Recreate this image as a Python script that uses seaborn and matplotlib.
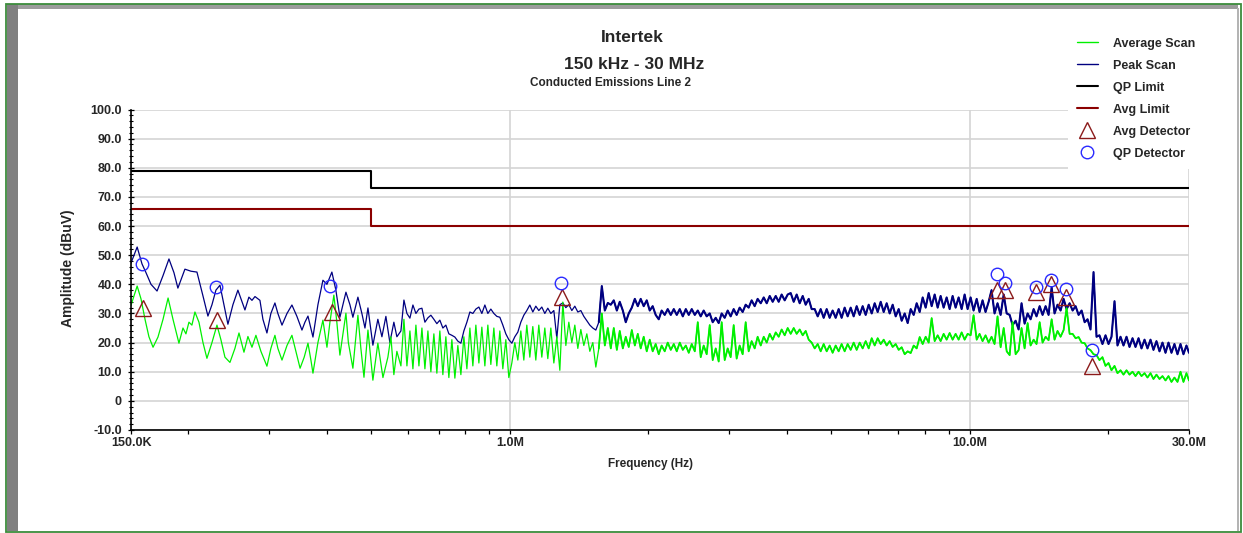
import matplotlib
matplotlib.use("Agg")
import matplotlib.pyplot as plt
import seaborn as sns
from matplotlib.lines import Line2D
from matplotlib.patches import Rectangle
from matplotlib.ticker import FixedLocator, FixedFormatter, MultipleLocator, NullFormatter

# ---------------- data (frequency in MHz, amplitude in dBuV) ----------------
peak_freq_low = [0.150, 0.1547, 0.1585, 0.1617, 0.1658, 0.1709, 0.1761, 0.1814, 0.1860, 0.1897,
                 0.1965, 0.2025, 0.2087, 0.2151, 0.2205, 0.2250, 0.2295, 0.2342, 0.2389, 0.2437,
                 0.2499, 0.2562, 0.2654, 0.2707, 0.2749, 0.2791, 0.2861, 0.2904, 0.2963, 0.3022,
                 0.3084, 0.3130, 0.3195, 0.3276, 0.3358, 0.3443, 0.3531, 0.3584, 0.3639, 0.3731,
                 0.3825, 0.3922, 0.4002, 0.4102, 0.4185, 0.4270, 0.4401, 0.4490, 0.4557, 0.4673,
                 0.4767, 0.4841, 0.4914, 0.5037, 0.5164, 0.5270, 0.5376, 0.5484, 0.5595, 0.5680]
peak_db_low = [47.3, 52.8, 47, 44, 40, 37.7, 43, 48.7, 44, 38.7,
               45.2, 44.5, 44.2, 36, 29.1, 33, 38, 39.7, 33, 26.3,
               33, 38.0, 31.2, 35.6, 34.5, 35.8, 34.5, 28, 23.3, 30,
               33.6, 30, 26.0, 30, 32.9, 29, 24.3, 27, 29.1, 21.9,
               33, 41.4, 40, 44.2, 38, 28.7, 37.3, 33, 28.7, 35.6,
               30, 25.0, 31.9, 19.1, 28, 22, 29, 20, 27, 22]

avg_freq_low = [0.150, 0.1547, 0.1577, 0.1609, 0.1641, 0.1675, 0.1717, 0.1761, 0.1806, 0.1851,
                0.1907, 0.1946, 0.1975, 0.2005, 0.2035, 0.2066, 0.2108, 0.2151, 0.2194, 0.2250,
                0.2307, 0.2353, 0.2401, 0.2462, 0.2524, 0.2576, 0.2641, 0.2694, 0.2749, 0.2804,
                0.2875, 0.2963, 0.3022, 0.3084, 0.3130, 0.3195, 0.3276, 0.3358, 0.3426, 0.3498,
                0.3571, 0.3639, 0.3693, 0.3731, 0.3825, 0.3922, 0.4002, 0.4062, 0.4143, 0.4205,
                0.4270, 0.4401, 0.4455, 0.4557, 0.4673, 0.4743, 0.4817, 0.4914, 0.4987, 0.5037,
                0.5164, 0.5297, 0.5430, 0.5512, 0.5595, 0.5680]
avg_db_low = [32.8, 39.4, 35, 28, 22, 18.4, 21.9, 28, 35.3, 28,
              19.8, 25, 23, 27, 26, 30.5, 27, 20, 14.6, 20,
              26.0, 21, 15, 13.2, 18, 23.3, 16.7, 22.1, 18.4, 22.5,
              17, 11.9, 18, 22.5, 18, 14.0, 19, 22.5, 17, 11.2,
              15, 19.8, 14, 9.5, 20, 27.7, 18.4, 27, 36.3, 27,
              15.7, 30.1, 20, 11.2, 29.4, 18, 8.1, 24.3, 14, 7.1,
              19.8, 8, 15, 22, 9, 17]

# shared sweep points above ~0.58 MHz
sweep_freq = [0.5796, 0.5884, 0.5973, 0.6063, 0.6155, 0.6248, 0.6343, 0.6439, 0.6536, 0.6635,
              0.6734, 0.6836, 0.6939, 0.7044, 0.7151, 0.7259, 0.7369, 0.7481, 0.7594, 0.7708,
              0.7826, 0.7944, 0.8065, 0.8187, 0.8310, 0.8436, 0.8564, 0.8693, 0.8825, 0.8958,
              0.9093, 0.9231, 0.9370, 0.9512, 0.9656, 0.9802, 0.9950, 1.0101, 1.0253, 1.0409,
              1.0566, 1.0726, 1.0888, 1.1053, 1.1220, 1.1390, 1.1562, 1.1737, 1.1915, 1.2095,
              1.2280, 1.2466, 1.2654, 1.2846, 1.3040, 1.3238, 1.3438, 1.3641, 1.3847, 1.4057,
              1.4270, 1.4486, 1.4705, 1.4928, 1.5153, 1.5383, 1.5615, 1.5851, 1.6091, 1.6335,
              1.658, 1.683, 1.709, 1.734, 1.761, 1.787, 1.814, 1.842, 1.870, 1.898,
              1.926, 1.955, 1.985, 2.015, 2.045, 2.076, 2.108, 2.139, 2.172, 2.205,
              2.239, 2.273, 2.307, 2.342, 2.378, 2.414, 2.450, 2.487, 2.525, 2.563,
              2.601, 2.640, 2.680, 2.721, 2.762, 2.804, 2.846, 2.889, 2.933, 2.977,
              3.022, 3.068, 3.114, 3.161, 3.209, 3.258, 3.307, 3.357, 3.408, 3.459,
              3.513, 3.566, 3.620, 3.675, 3.730, 3.787, 3.844, 3.901, 3.961, 4.021,
              4.082, 4.144, 4.206, 4.270, 4.335, 4.400, 4.467, 4.534, 4.603, 4.673,
              4.743, 4.815, 4.888, 4.961, 5.036, 5.113, 5.190, 5.268, 5.348, 5.429,
              5.512, 5.595, 5.680, 5.766, 5.853, 5.942, 6.032, 6.124, 6.216, 6.310,
              6.406, 6.503, 6.601, 6.701, 6.802, 6.906, 7.010, 7.116, 7.224, 7.333,
              7.444, 7.557, 7.671, 7.787, 7.905, 8.024, 8.146, 8.269, 8.394, 8.521,
              8.649, 8.780, 8.913, 9.048, 9.184, 9.323, 9.464, 9.608, 9.753, 9.900,
              10.05, 10.20, 10.36, 10.51, 10.67, 10.83, 11.00, 11.16, 11.33, 11.50,
              11.68, 11.86, 12.04, 12.22, 12.40, 12.59, 12.78, 12.97, 13.17, 13.37,
              13.57, 13.78, 13.98, 14.20, 14.41, 14.63, 14.85, 15.08, 15.30, 15.53,
              15.77, 16.01, 16.25, 16.50, 16.75, 17.00, 17.26, 17.52, 17.79, 18.05,
              18.32, 18.60, 18.88, 19.16, 19.45, 19.75, 20.05, 20.35, 20.66, 20.97,
              21.29, 21.61, 21.94, 22.27, 22.61, 22.95, 23.30, 23.65, 24.01, 24.37,
              24.74, 25.11, 25.49, 25.88, 26.27, 26.67, 27.07, 27.48, 27.89, 28.32,
              28.75, 29.18, 29.62, 30.0]

peak_db_sweep = [24, 34.6, 30, 28.4, 32.9, 30, 31.5, 31.8, 27, 28.5,
                 29.4, 28, 26.5, 27.7, 25, 26, 23, 22.5, 21.9, 20.5,
                 19.8, 24, 27, 30.5, 30, 31.5, 32.2, 30, 32.9, 30,
                 31.5, 30, 29, 28.7, 26, 23, 21, 19.8, 22, 23.6,
                 27, 29.4, 31, 32.9, 30.5, 32.5, 31, 32.2, 30, 31.8,
                 30, 31, 21.5, 33, 33.6, 32, 33, 31, 32.5, 30.5,
                 31, 29, 27.5, 26, 25, 24.3, 27, 39.4, 31, 33.6,
                 33, 34.5, 31, 34, 31, 27, 30, 32, 35, 32.5,
                 35, 32.5, 34.5, 31, 32.5, 29.5, 28, 31, 29.5, 31.5,
                 29.5, 31.5, 29.5, 31.5, 29, 31.5, 29.5, 31.5, 29.5, 31,
                 29, 31, 29, 30, 27, 28.5, 26.7, 30, 28.5, 31,
                 29, 31.5, 29.5, 32, 30.5, 33, 32, 34.5, 32.5, 35,
                 33.5, 35.5, 33.5, 36, 34, 36, 34, 36.5, 34.5, 36.5,
                 37, 34, 36.5, 33.5, 36, 33, 35, 31.5, 31.5, 29,
                 31.5, 28.5, 31.5, 28.5, 31, 28.5, 31.5, 28.5, 32, 29,
                 32, 29, 32.5, 29.5, 32.5, 29.5, 33, 30, 33.5, 30.5,
                 34, 30.5, 33.5, 30, 33, 29, 31.5, 27.5, 30, 26.7,
                 31.5, 29.5, 33.5, 30.5, 35.5, 32, 37, 32.5, 36.5, 32,
                 36, 32, 35.5, 31.5, 36, 32, 35.5, 31.5, 36.5, 31.5,
                 35.5, 31, 35, 30.5, 34.5, 30.5, 34, 38, 30, 33.5,
                 29.5, 36.5, 30, 29.5, 26, 27.5, 24.5, 33.5, 26.5, 30,
                 28, 31.5, 29, 32.5, 29.5, 32.5, 29.5, 39, 30, 33,
                 31, 35, 31.5, 33.5, 31, 32.5, 29.5, 31, 27, 28,
                 24.5, 44.2, 22, 22.5, 19.5, 22.5, 19.5, 22, 34.2, 19,
                 22, 19, 22, 18.5, 21.5, 18.5, 21.5, 18, 21, 18,
                 21, 17.5, 20.5, 17, 20, 16.5, 20, 16.5, 19.5, 16,
                 19.5, 16, 19, 16.5]

avg_db_sweep = [12, 28, 12, 24, 11, 26, 12, 25, 11, 24,
                10, 23, 9.5, 24, 9, 22, 8, 21, 7.8, 19,
                9, 22, 11, 25, 12, 26, 13, 25.3, 12, 26,
                12.5, 25, 12, 24, 11, 21, 8, 13, 20, 14,
                24, 14, 26, 15, 25.5, 14, 26, 15, 25, 14.5,
                25, 13, 22, 10.5, 33.9, 19, 27, 20, 26, 18,
                24.5, 19, 23, 17, 20, 11.6, 18, 30, 19, 25,
                18, 25, 17.5, 24, 18, 22, 18.5, 24.3, 19, 23,
                18, 22, 17, 21, 17, 19.5, 16, 19, 17, 20,
                17.5, 19.5, 17, 20, 17.5, 19, 16.5, 19.5, 17, 27,
                15, 19, 16, 26, 14, 18, 13.5, 27, 14, 18,
                15, 26, 14.5, 19, 16, 27, 17, 20.5, 18, 22,
                19, 22, 20, 23, 21, 23.5, 22, 24.5, 22.5, 25,
                23, 25, 23, 24.5, 22.5, 24, 21, 20, 18, 19.5,
                17, 19.5, 17, 19, 16.5, 19, 17, 19.5, 17, 19.5,
                17.5, 20, 17.5, 20, 18, 20.5, 18, 21.5, 19, 21.5,
                19.5, 21, 19, 20.5, 18.5, 19.5, 17.5, 18.4, 16, 17,
                16.4, 19, 18, 21.9, 19.5, 22, 20, 28.4, 20.5, 22.5,
                20.5, 23, 21, 23.3, 21, 23, 21, 23.5, 21, 23,
                22.5, 29.4, 21, 23, 20.5, 22.5, 20, 22, 19.5, 29,
                18.4, 25, 17, 15.7, 27, 16, 17.4, 25, 18, 26.7,
                19, 21, 19.5, 27, 20, 22, 20.8, 28, 21, 24,
                22, 24.3, 31.8, 23, 23, 21.5, 21.9, 20, 19.8, 18,
                17.4, 16, 15.7, 14, 15, 12, 13, 10.5, 12, 9.5,
                10.5, 9, 10.5, 9, 10, 8.5, 10, 8.5, 9.5, 8,
                9.5, 7.5, 9, 7.5, 8.5, 7, 8.5, 6.5, 8, 6.5,
                10, 6.5, 9.5, 7]

limit_freq = [0.15, 0.5, 30.0]
qp_limit = [79.0, 73.0, 73.0]
avg_limit = [66.0, 60.0, 60.0]

qp_det_freq = [0.1585, 0.2295, 0.4062, 1.291, 11.49, 11.96, 13.92, 15.05, 16.17, 18.48]
qp_det_db = [47.0, 39.1, 39.4, 40.4, 43.4, 40.3, 39.2, 41.4, 38.3, 17.6]
avg_det_freq = [0.1593, 0.2307, 0.4102, 1.297, 11.49, 11.96, 13.92, 15.05, 16.17, 18.48]
avg_det_db = [31.8, 27.7, 30.5, 35.6, 38.0, 38.0, 37.3, 40.0, 35.7, 12.0]

xtick_values = [0.15, 1.0, 10.0, 30.0]
xtick_labels = ["150.0K", "1.0M", "10.0M", "30.0M"]
xminor_values = [0.2, 0.3, 0.4, 0.5, 0.6, 0.7, 0.8, 0.9, 2, 3, 4, 5, 6, 7, 8, 9, 20]
ytick_values = [-10, 0, 10, 20, 30, 40, 50, 60, 70, 80, 90, 100]
ytick_labels = ["-10.0", "0", "10.0", "20.0", "30.0", "40.0", "50.0", "60.0", "70.0", "80.0", "90.0", "100.0"]

legend_labels = ["Average Scan", "Peak Scan", "QP Limit", "Avg Limit", "Avg Detector", "QP Detector"]

peak_freq = peak_freq_low + sweep_freq
peak_db = peak_db_low + peak_db_sweep
avg_freq = avg_freq_low + sweep_freq
avg_db = avg_db_low + avg_db_sweep
assert len(peak_freq) == len(peak_db), (len(peak_freq), len(peak_db))
assert len(avg_freq) == len(avg_db), (len(avg_freq), len(avg_db))

# dense (noisy) part of the sweep, drawn a little heavier like the analyser trace
dense_from = 1.55
dense_f = [f for f in sweep_freq if f >= dense_from]
dense_peak = [v for f, v in zip(sweep_freq, peak_db_sweep) if f >= dense_from]
dense_avg = [v for f, v in zip(sweep_freq, avg_db_sweep) if f >= dense_from]

# ---------------- styling ----------------
GREEN = "#00f000"
NAVY = "#000080"
DARKRED = "#8b0000"
TRI = "#8b1a1a"
CIRC = "#2a2aff"

sns.set_style("white")
plt.rcParams["font.family"] = ["Liberation Sans", "DejaVu Sans"]
plt.rcParams["font.weight"] = "bold"
plt.rcParams["axes.labelweight"] = "bold"

W, H = 1243, 533
fig = plt.figure(figsize=(W / 100, H / 100), dpi=100)
fig.patch.set_facecolor("white")
ax = fig.add_axes([131 / W, (H - 430) / H, 1058 / W, 320.5 / H])

sns.lineplot(x=peak_freq, y=peak_db, color=NAVY, lw=0.9, estimator=None, sort=False, ax=ax)
sns.lineplot(x=dense_f, y=dense_peak, color=NAVY, lw=1.5, estimator=None, sort=False, ax=ax)
sns.lineplot(x=avg_freq, y=avg_db, color=GREEN, lw=0.9, estimator=None, sort=False, ax=ax)
sns.lineplot(x=dense_f, y=dense_avg, color=GREEN, lw=1.3, estimator=None, sort=False, ax=ax)
sns.lineplot(x=limit_freq, y=qp_limit, color="black", lw=1.5, drawstyle="steps-post",
             estimator=None, sort=False, ax=ax)
sns.lineplot(x=limit_freq, y=avg_limit, color=DARKRED, lw=1.5, drawstyle="steps-post",
             estimator=None, sort=False, ax=ax)
sns.lineplot(x=avg_det_freq, y=avg_det_db, marker="^", linestyle="none", markersize=11,
             markerfacecolor="none", markeredgecolor=TRI, markeredgewidth=1.0,
             estimator=None, sort=False, ax=ax)
sns.lineplot(x=qp_det_freq, y=qp_det_db, marker="o", linestyle="none", markersize=9,
             markerfacecolor="none", markeredgecolor=CIRC, markeredgewidth=1.0,
             estimator=None, sort=False, ax=ax)

ax.set_xscale("log")
ax.set_xlim(0.15, 30.0)
ax.set_ylim(-10, 100)
ax.xaxis.set_major_locator(FixedLocator(xtick_values))
ax.xaxis.set_major_formatter(FixedFormatter(xtick_labels))
ax.xaxis.set_minor_locator(FixedLocator(xminor_values))
ax.xaxis.set_minor_formatter(NullFormatter())
ax.yaxis.set_major_locator(FixedLocator(ytick_values))
ax.yaxis.set_major_formatter(FixedFormatter(ytick_labels))
ax.yaxis.set_minor_locator(MultipleLocator(2))

ax.tick_params(axis="y", which="major", direction="inout", length=5, width=0.9, color="black",
               labelsize=9, pad=4, left=True)
ax.tick_params(axis="y", which="minor", direction="inout", length=3.5, width=0.8, color="black", left=True)
ax.tick_params(axis="x", which="both", direction="out", length=3, width=0.9, color="black",
               labelsize=9, pad=2, bottom=True)

ax.grid(True, which="major", axis="both", color="#d4d4d4", lw=1.2)
ax.set_axisbelow(True)
for s in ["top", "right"]:
    ax.spines[s].set_visible(False)
for s in ["left", "bottom"]:
    ax.spines[s].set_color("black")
    ax.spines[s].set_linewidth(1.2)

ax.set_xlabel("Frequency (Hz)", fontsize=8.5, fontweight="bold")
ax.set_ylabel("Amplitude (dBuV)", fontsize=10, fontweight="bold")
ax.xaxis.set_label_coords((651 - 131) / 1058, (430 - 458) / 320.5)
ax.yaxis.set_label_coords((75 - 131) / 1058, (430 - 268) / 320.5)

# titles
fig.text(632 / W, 1 - 42.5 / H, "Intertek", ha="center", va="baseline", fontsize=12.5, fontweight="bold")
fig.text(634 / W, 1 - 69 / H, "150 kHz - 30 MHz", ha="center", va="baseline", fontsize=12.5, fontweight="bold")
fig.text(611 / W, 1 - 85.5 / H, "Conducted Emissions Line 2", ha="center", va="baseline", fontsize=8.5,
         fontweight="bold")

# legend
handles = [
    Line2D([], [], color=GREEN, lw=1.0),
    Line2D([], [], color=NAVY, lw=1.0),
    Line2D([], [], color="black", lw=1.5),
    Line2D([], [], color=DARKRED, lw=1.5),
    Line2D([], [], marker="^", linestyle="none", markersize=11, markerfacecolor="none",
           markeredgecolor=TRI, markeredgewidth=1.0),
    Line2D([], [], marker="o", linestyle="none", markersize=9, markerfacecolor="none",
           markeredgecolor=CIRC, markeredgewidth=1.0),
]
leg = ax.legend(handles, legend_labels, loc="upper left", bbox_to_anchor=(1068 / W, 1 - 29 / H),
                bbox_transform=fig.transFigure, frameon=True, facecolor="white", edgecolor="none",
                framealpha=1, fancybox=False, borderpad=0.7, borderaxespad=0, handlelength=1.7,
                handletextpad=1.2, labelspacing=0.8, prop={"weight": "bold", "size": 9})
leg.set_zorder(10)

# outer frame decorations
def rect(x0, y0, x1, y1, **kw):
    fig.add_artist(Rectangle((x0 / W, 1 - y1 / H), (x1 - x0) / W, (y1 - y0) / H,
                             transform=fig.transFigure, **kw))

rect(7, 4, 1238, 8.5, facecolor="#9c9c9c", edgecolor="none")
rect(7, 4, 18, 531, facecolor="#808080", edgecolor="none")
rect(1237, 8, 1239, 531, facecolor="#b4b4b4", edgecolor="none")
rect(6, 3.5, 1241, 531.5, fill=False, edgecolor="#3c8c3c", lw=1.3)

fig.savefig("out.png", dpi=100, facecolor="white")
